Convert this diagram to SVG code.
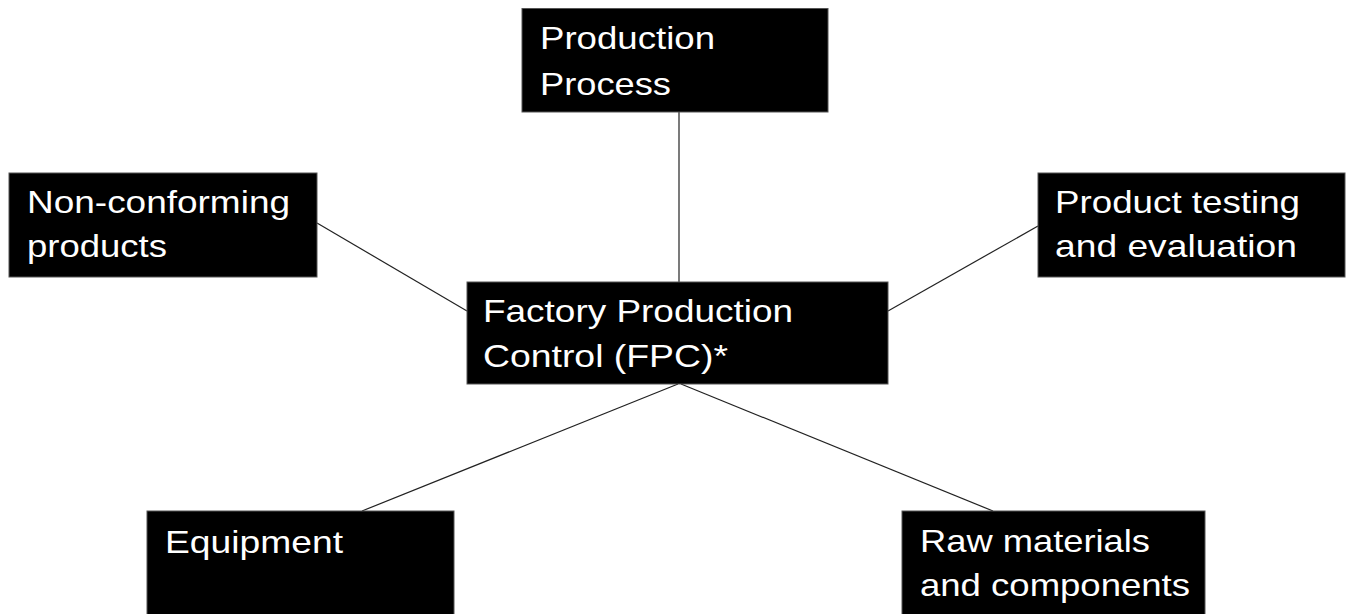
<svg xmlns="http://www.w3.org/2000/svg" width="1346" height="614" viewBox="0 0 1346 614">
<style>
.box{fill:#000;stroke:#555;stroke-width:1}
.t{font-family:"Liberation Sans",Arial,sans-serif;font-size:32px;fill:#fff}
.c line{stroke:#222;stroke-width:1.2}
</style>
<rect width="1346" height="614" fill="#fff"/>
<g class="c" id="connectors">
<line x1="679" y1="112" x2="679" y2="282"/>
<line x1="317" y1="223" x2="467" y2="311"/>
<line x1="1038" y1="226" x2="888" y2="311"/>
<line x1="678" y1="384" x2="362" y2="511"/>
<line x1="681" y1="384" x2="993" y2="511"/>
</g>
<g id="production-process">
<rect class="box" x="522" y="8.5" width="306" height="103.5"/>
<text class="t" x="540" y="49" textLength="175" lengthAdjust="spacingAndGlyphs">Production</text>
<text class="t" x="540" y="95" textLength="131" lengthAdjust="spacingAndGlyphs">Process</text>
</g>
<g id="non-conforming">
<rect class="box" x="9" y="173" width="308" height="104"/>
<text class="t" x="27" y="213" textLength="263" lengthAdjust="spacingAndGlyphs">Non-conforming</text>
<text class="t" x="27" y="257" textLength="140" lengthAdjust="spacingAndGlyphs">products</text>
</g>
<g id="fpc">
<rect class="box" x="467" y="282" width="421" height="102"/>
<text class="t" x="483" y="322" textLength="310" lengthAdjust="spacingAndGlyphs">Factory Production</text>
<text class="t" x="483" y="367" textLength="245" lengthAdjust="spacingAndGlyphs">Control (FPC)*</text>
</g>
<g id="product-testing">
<rect class="box" x="1038" y="173" width="307" height="104"/>
<text class="t" x="1055" y="213" textLength="245" lengthAdjust="spacingAndGlyphs">Product testing</text>
<text class="t" x="1055" y="257" textLength="242" lengthAdjust="spacingAndGlyphs">and evaluation</text>
</g>
<g id="equipment">
<rect class="box" x="147" y="511" width="307" height="110"/>
<text class="t" x="165" y="553" textLength="178" lengthAdjust="spacingAndGlyphs">Equipment</text>
</g>
<g id="raw-materials">
<rect class="box" x="902" y="511" width="303" height="110"/>
<text class="t" x="920" y="552" textLength="230" lengthAdjust="spacingAndGlyphs">Raw materials</text>
<text class="t" x="920" y="596" textLength="270" lengthAdjust="spacingAndGlyphs">and components</text>
</g>
</svg>
